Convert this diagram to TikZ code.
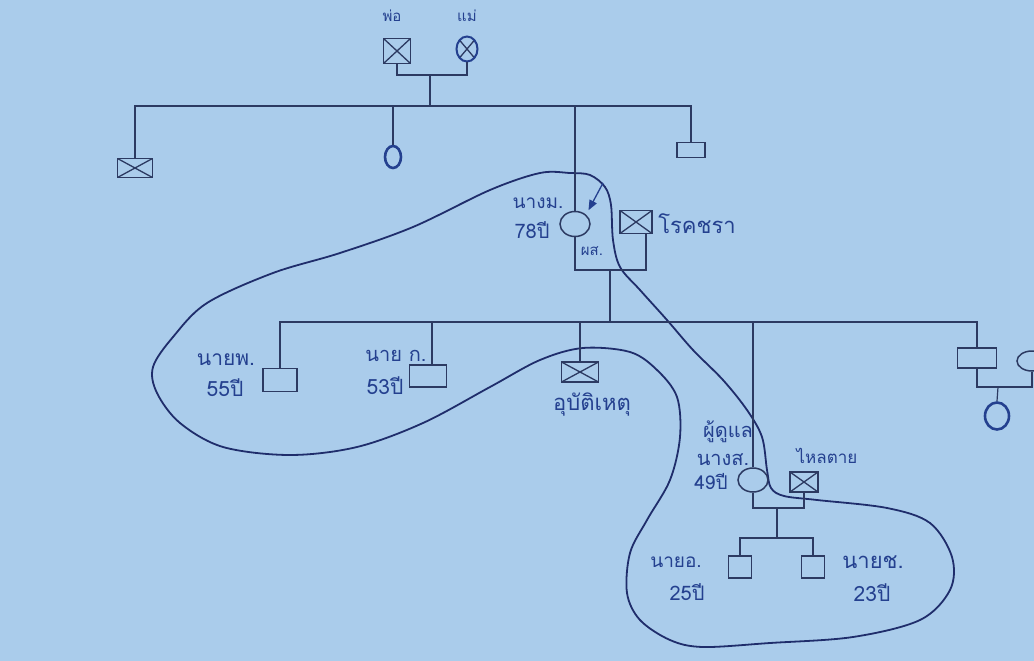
\documentclass[tikz,border=0pt]{standalone}
\usepackage{fontspec}
\newfontfamily\thaifont[Script=Thai]{Loma}
\usepackage{xcolor}
\usepackage{tikz}
\usetikzlibrary{arrows.meta,positioning,shapes.geometric,calc}
\definecolor{paper}{HTML}{AACCEB}
\definecolor{ink}{HTML}{2C3A62}
\definecolor{pen}{HTML}{24408F}
\definecolor{hhline}{HTML}{1F2D6B}
\tikzset{
  male/.style={
    rectangle, draw=ink, line width=1.5pt,
    minimum width=32pt, minimum height=22pt, inner sep=0pt
  },
  female/.style={
    ellipse, draw=ink, line width=1.5pt,
    minimum width=24pt, minimum height=24pt, inner sep=0pt
  },
  penmark/.style={draw=pen, line width=#1},
  penmark/.default=2.6pt,
  dead/.style={path picture={
    \draw[ink, line width=1.3pt]
      (path picture bounding box.north west) -- (path picture bounding box.south east)
      (path picture bounding box.south west) -- (path picture bounding box.north east);}},
  lbl/.style={font=\thaifont\fontsize{#1}{#1}\selectfont, text=pen, inner sep=0pt},
  lbl/.default=19,
  link/.style={draw=ink, line width=1.2pt},
  household/.style={draw=hhline, line width=1.8pt},
}

\begin{document}
\begin{tikzpicture}[x=1pt, y=-1pt]
\useasboundingbox (0,0) rectangle (1034,661);
\fill[paper] (0,0) rectangle (1034,661);

\draw[household] plot[smooth cycle, tension=0.55] coordinates {
  (570,173) (590,175) (605,187) (611,205) (613,240) (620,267) (640,290)
  (667,320) (693,350) (723,380) (747,410) (762,437) (767,470) (771,488)
  (784,496) (817,500) (887,508) (930,523) (952,557) (950,590) (920,620)
  (853,637) (770,643) (703,647) (670,640) (640,620) (627,593) (630,553)
  (647,520) (670,480) (680,437) (677,397) (657,370) (630,352) (583,348)
  (540,360) (490,387) (423,423) (357,447) (290,455) (223,447) (180,423)
  (157,393) (153,367) (173,337) (207,303) (273,273) (340,253) (413,227)
  (490,190) (540,173)};

% grandparents
\node[male, dead, minimum width=27pt, minimum height=25pt] (father) at (397,51) {};
\node[female, dead, penmark=2pt, minimum width=21pt, minimum height=25pt] (mother) at (467,49) {};
\node[lbl=15] (fatherlbl) at (392,16) {พ่อ};
\node[lbl=15] (motherlbl) at (467,16) {แม่};
\coordinate (pm) at (430,75);
\coordinate (sb) at (430,106);

% siblings of the client
\node[male, dead, minimum width=35pt, minimum height=19pt] (bro) at (135,168) {};
\node[female, penmark, minimum width=16pt, minimum height=22pt] (sis) at (393,157) {};
\node[female, minimum width=30pt, minimum height=25pt] (ego) at (575,224) {};
\node[male, minimum width=28pt, minimum height=15pt] (rsib) at (691,150) {};
\node[male, dead, minimum width=32pt, minimum height=23pt] (hus) at (636,222) {};
\coordinate (em) at (610,270);
\coordinate (cb) at (610,322);

\node[lbl] (egoname) at (538,203) {นางม.};
\node[lbl=20] (egoage) at (532,230) {78ปี};
\node[lbl=15] (egotag) at (592,251) {ผส.};
\node[lbl=22] (huscause) at (697,224) {โรคชรา};

% children
\node[male, minimum width=34pt, minimum height=23pt] (c1) at (280,380) {};
\node[male, minimum width=37pt, minimum height=22pt] (c2) at (428,376) {};
\node[male, dead, minimum width=37pt, minimum height=20pt] (acc) at (580,372) {};
\node[female, minimum width=30pt, minimum height=24pt] (carer) at (753,480) {};
\node[male, dead, minimum width=28pt, minimum height=20pt] (carerhus) at (804,482) {};
\node[male, minimum width=39pt, minimum height=20pt] (c6) at (977,358) {};
\node[female, minimum width=30pt, minimum height=20pt] (c6w) at (1032,361) {};
\node[female, penmark, minimum width=24pt, minimum height=27pt] (c6kid) at (997,416) {};
\coordinate (rm) at (998,387);

\node[lbl=21] (c1name) at (226,360) {นายพ.};
\node[lbl=21] (c1age) at (225,388) {55ปี};
\node[lbl=20] (c2name) at (396,356) {นาย ก.};
\node[lbl=21] (c2age) at (385,386) {53ปี};
\node[lbl=22] (acccause) at (592,405) {อุบัติเหตุ};
\node[lbl=20] (carerrole) at (728,432) {ผู้ดูแล};
\node[lbl=20] (carername) at (723,460) {นางส.};
\node[lbl] (carerage) at (711,481) {49ปี};
\node[lbl=17] (husdeath) at (827,456) {ไหลตาย};

% grandchildren
\coordinate (sm) at (777,508);
\coordinate (gb) at (777,538);
\node[male, minimum width=23pt, minimum height=22pt] (g1) at (740,567) {};
\node[male, minimum width=23pt, minimum height=22pt] (g2) at (813,567) {};
\node[lbl] (g1name) at (676,562) {นายอ.};
\node[lbl=20] (g1age) at (687,592) {25ปี};
\node[lbl=22] (g2name) at (873,562) {นายช.};
\node[lbl=21] (g2age) at (872,593) {23ปี};

\draw[link] (father.south) |- (pm) -| (mother.south);
\draw[link] (pm) -- (sb);
\draw[link] (bro.north) |- (sb) -| (rsib.north);
\draw[link] (sis.north) -- (sis.north |- sb);
\draw[link] (ego.north) -- (ego.north |- sb);
\draw[link] (ego.south) |- (em) -| ([xshift=10pt]hus.south);
\draw[link] (em) -- (cb);
\draw[link] (c1.north) |- (cb) -| (c6.north);
\draw[link] ([xshift=4pt]c2.north) -- ([xshift=4pt]c2.north |- cb);
\draw[link] (acc.north) -- (acc.north |- cb);
\draw[link] (carer.north) -- (carer.north |- cb);
\draw[link] (c6.south) |- (rm) -| (c6w.south);
\draw[link] (rm) -- (c6kid.north);
\draw[link] (carer.south) |- (sm) -| (carerhus.south);
\draw[link] (sm) -- (gb);
\draw[link] (g1.north) |- (gb) -| (g2.north);

\coordinate (ptr) at (603,183);
\draw[draw=pen, fill=pen, line width=1.3pt, shorten >=5pt,
  -{Triangle[length=10pt, width=8pt]}] (ptr) -- (ego.north east);
\end{tikzpicture}
\end{document}
